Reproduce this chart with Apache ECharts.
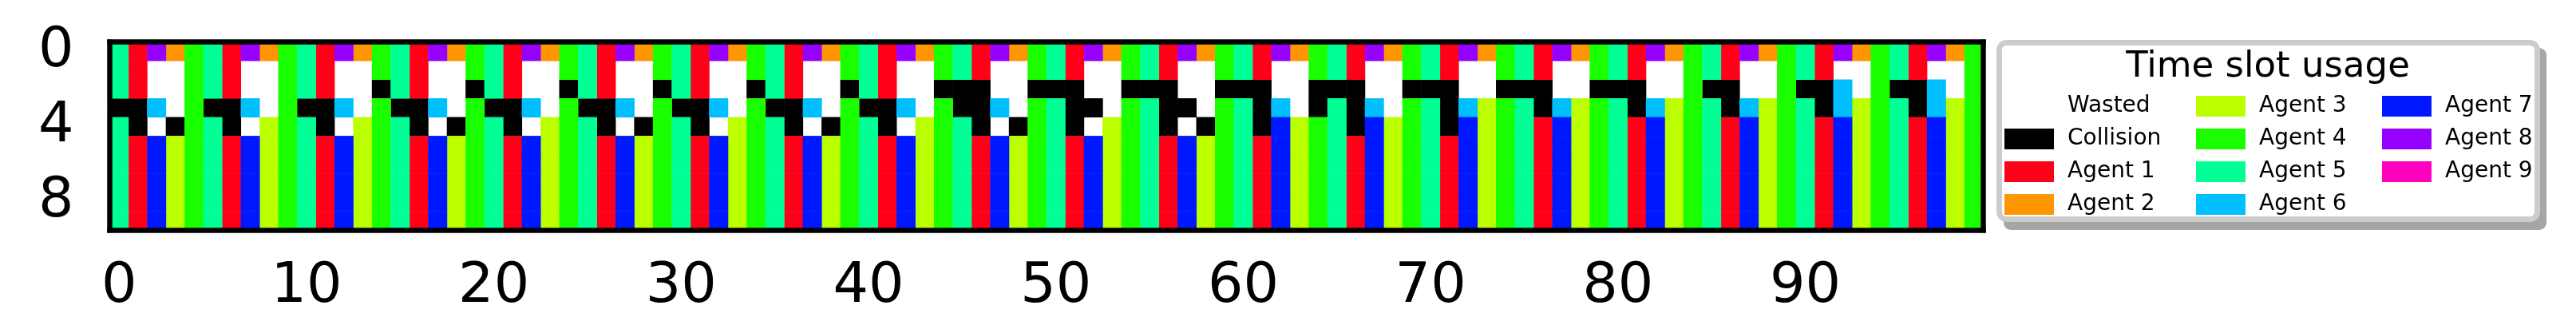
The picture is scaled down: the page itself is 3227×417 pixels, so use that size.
<!DOCTYPE html>
<html>
<head>
<meta charset="utf-8">
<script src="https://cdn.jsdelivr.net/npm/echarts@6/dist/echarts.min.js"></script>
<style>
    html, body { margin: 0; padding: 0; background: #fff; }
    #slotChart { width: 3227px; height: 417px; }
</style>
</head>
<body>
<div id="slotChart"></div>
<script>
// slot codes: W = wasted, C = collision, 1..9 = agent id
const slotCodes = ['W', 'C', '1', '2', '3', '4', '5', '6', '7', '8', '9'];
const slotNames = ['Wasted', 'Collision', 'Agent 1', 'Agent 2', 'Agent 3', 'Agent 4',
    'Agent 5', 'Agent 6', 'Agent 7', 'Agent 8', 'Agent 9'];
const slotColors = ['#ffffff', '#000000', '#ff0018', '#ff9500', '#bbff00', '#1aff00',
    '#00ff95', '#00bfff', '#0018ff', '#9500ff', '#ff00bf'];

// one string per row (row 0 at top), one character per time slot 0..99
const slotRows = [
    '51824'.repeat(20),
    '51WW4'.repeat(20),
    '51WW4'.repeat(2) + '51WWC'.repeat(7) + 'CCWWC'.repeat(7) + 'CCWW4'.repeat(2) + 'CC6W4'.repeat(2),
    'CC6W4'.repeat(10) + '5CCW4'.repeat(2) + '5C6WC' + '5C6W4' + '5C634'.repeat(6),
    '5CWC4' + '5CW34' + '5CW34' + '5CWC4' + '5CW34' + '5CWC4' + '5CW34' + '5CWC4' + '5CW34' +
        '5CWC4' + '5CW34' + '5CWC4' + '5C734'.repeat(3) + '51734'.repeat(5),
    '51734'.repeat(20),
    '51734'.repeat(20),
    '51734'.repeat(20),
    '51734'.repeat(20),
    '51734'.repeat(20)
];

const xLabels = Array.from({ length: 100 }, (_, i) => String(i));
const yLabels = Array.from({ length: 10 }, (_, i) => String(i));

const legendColumns = [
    ['Wasted', 'Collision', 'Agent 1', 'Agent 2'],
    ['Agent 3', 'Agent 4', 'Agent 5', 'Agent 6'],
    ['Agent 7', 'Agent 8', 'Agent 9']
];
const legendLefts = [2511, 2751, 2984];

const font = 'DejaVu Sans';

const chart = echarts.init(document.getElementById('slotChart'), null, { renderer: 'canvas' });

const series = slotCodes.map((code, k) => {
    const cells = [];
    slotRows.forEach((row, r) => {
        for (let c = 0; c < row.length; c++) {
            if (row[c] === code) cells.push([c, r, 1]);
        }
    });
    return {
        name: slotNames[k],
        type: 'heatmap',
        xAxisIndex: 0,
        yAxisIndex: 0,
        data: cells,
        itemStyle: { color: slotColors[k] },
        emphasis: { disabled: true },
        animation: false
    };
});

const frameLine = { color: '#000', width: 6.5, cap: 'square' };
const tickLine = { color: '#000', width: 6.5 };

const option = {
    animation: false,
    title: {
        text: 'Time slot usage',
        left: 2841,
        top: 62,
        textAlign: 'center',
        padding: 0,
        textStyle: { fontFamily: font, fontSize: 45, fontWeight: 'normal', color: '#000' }
    },
    graphic: [
        {
            type: 'rect', z: 0,
            shape: { x: 2510, y: 60, width: 680, height: 228, r: 9 },
            style: { fill: '#a6a6a6' }
        },
        {
            type: 'rect', z: 1,
            shape: { x: 2504.5, y: 53.5, width: 674, height: 221, r: 9 },
            style: { fill: '#fff', stroke: '#cccccc', lineWidth: 7 }
        }
    ],
    legend: legendColumns.map((names, i) => ({
        data: names,
        orient: 'vertical',
        left: legendLefts[i],
        top: 119,
        padding: 0,
        itemWidth: 62,
        itemHeight: 26,
        itemGap: 13,
        icon: 'rect',
        selectedMode: false,
        z: 5,
        textStyle: { fontFamily: font, fontSize: 28, color: '#000', padding: [0, 0, 0, 12] }
    })),
    grid: { left: 137.5, top: 52.7, width: 2347, height: 235.3, containLabel: false },
    xAxis: [
        {
            type: 'category',
            data: xLabels,
            position: 'bottom',
            z: 10,
            axisLine: { lineStyle: frameLine },
            axisTick: { interval: 9, alignWithLabel: true, length: 24, lineStyle: tickLine },
            axisLabel: { interval: 9, margin: 37, fontFamily: font, fontSize: 70, color: '#000' },
            splitLine: { show: false }
        },
        {
            type: 'category',
            data: xLabels,
            position: 'top',
            z: 10,
            axisLine: { lineStyle: frameLine },
            axisTick: { show: false },
            axisLabel: { show: false }
        }
    ],
    yAxis: [
        {
            type: 'category',
            data: yLabels,
            inverse: true,
            z: 10,
            axisLine: { lineStyle: frameLine },
            axisTick: { interval: 3, alignWithLabel: true, length: 24, lineStyle: tickLine },
            axisLabel: { interval: 3, margin: 45, fontFamily: font, fontSize: 70, color: '#000' },
            splitLine: { show: false }
        },
        {
            type: 'category',
            data: yLabels,
            inverse: true,
            position: 'right',
            z: 10,
            axisLine: { lineStyle: frameLine },
            axisTick: { show: false },
            axisLabel: { show: false }
        }
    ],
    series: series
};

chart.setOption(option);
</script>
</body>
</html>
